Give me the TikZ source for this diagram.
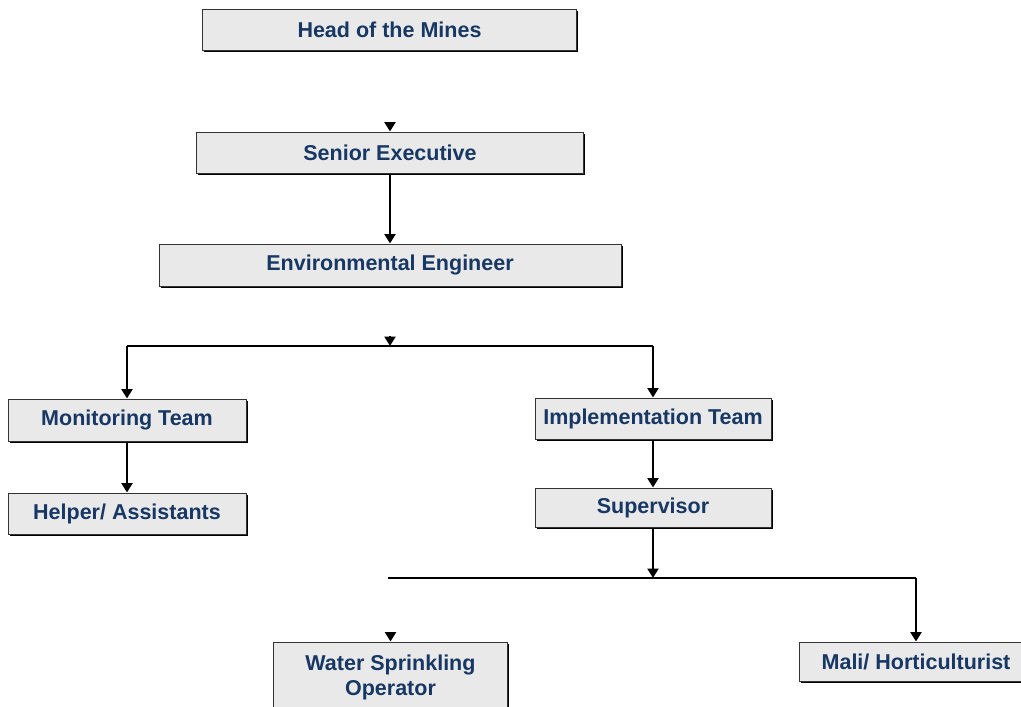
\documentclass[tikz,border=0pt]{standalone}
\usepackage{fontspec}
\setmainfont{Liberation Sans}
\usetikzlibrary{arrows.meta,shadows}
\definecolor{navy}{RGB}{23,55,100}
\definecolor{boxfill}{RGB}{233,233,233}
\begin{document}
\begin{tikzpicture}[x=1pt,y=-1pt,
  box/.style={rectangle,draw=black!80,line width=1pt,fill=boxfill,inner sep=0pt,
    font=\fontsize{21.5}{26}\selectfont\bfseries,text=navy,align=center,
    drop shadow={shadow xshift=1.6pt,shadow yshift=-1.6pt,fill=black,opacity=1}},
  conn/.style={line width=2.4pt,black},
  arr/.style={conn,-{Triangle[width=11pt,length=9.5pt]}}]
\useasboundingbox (0,0) rectangle (1021,707);
\node[box,minimum width=374pt,minimum height=41pt] (head) at (389.5,30) {Head of the Mines};
\node[box,minimum width=387pt,minimum height=41pt] (senior) at (390,152.5) {Senior Executive};
\node[box,minimum width=462pt,minimum height=42pt] (env) at (390,265) {Environmental Engineer};
\node[box,minimum width=238pt,minimum height=42pt] (mon) at (127,420) {Monitoring Team};
\node[box,minimum width=238pt,minimum height=41pt] (help) at (127,513.5) {Helper/ Assistants};
\node[box,minimum width=236pt,minimum height=41pt] (impl) at (653,418.5) {Implementation Team};
\node[box,minimum width=236pt,minimum height=39pt] (sup) at (653,507.5) {Supervisor};
\node[box,minimum width=234pt,minimum height=70pt] (water) at (390.5,677) {Water Sprinkling\\[-1pt]Operator};
\node[box,minimum width=234pt,minimum height=39pt] (mali) at (916,661.5) {Mali/ Horticulturist};
% coordinates
\coordinate (s1) at (390,346);
\coordinate (s1tip) at (390,336);
\coordinate (l1) at (127,346);
\coordinate (r1) at (653,346);
\coordinate (sentip) at (390,122);
\coordinate (s2) at (653,578);
\coordinate (l2) at (388,578);
\coordinate (r2) at (916,578);
\coordinate (wtip) at (390.5,632);
% connectors
\draw[arr] (sentip) -- (senior.north);
\draw[arr] (senior.south) -- (env.north);
\draw[conn] (l1) -- (r1);
\draw[arr] (s1tip) -- (s1);
\draw[arr] (l1) -- (mon.north);
\draw[arr] (r1) -- (impl.north);
\draw[arr] (mon.south) -- (help.north);
\draw[arr] (impl.south) -- (sup.north);
\draw[conn] (l2) -- (r2);
\draw[arr] (sup.south) -- (s2);
\draw[arr] (r2) -- (mali.north);
\draw[arr] (wtip) -- (water.north);
\end{tikzpicture}
\end{document}
